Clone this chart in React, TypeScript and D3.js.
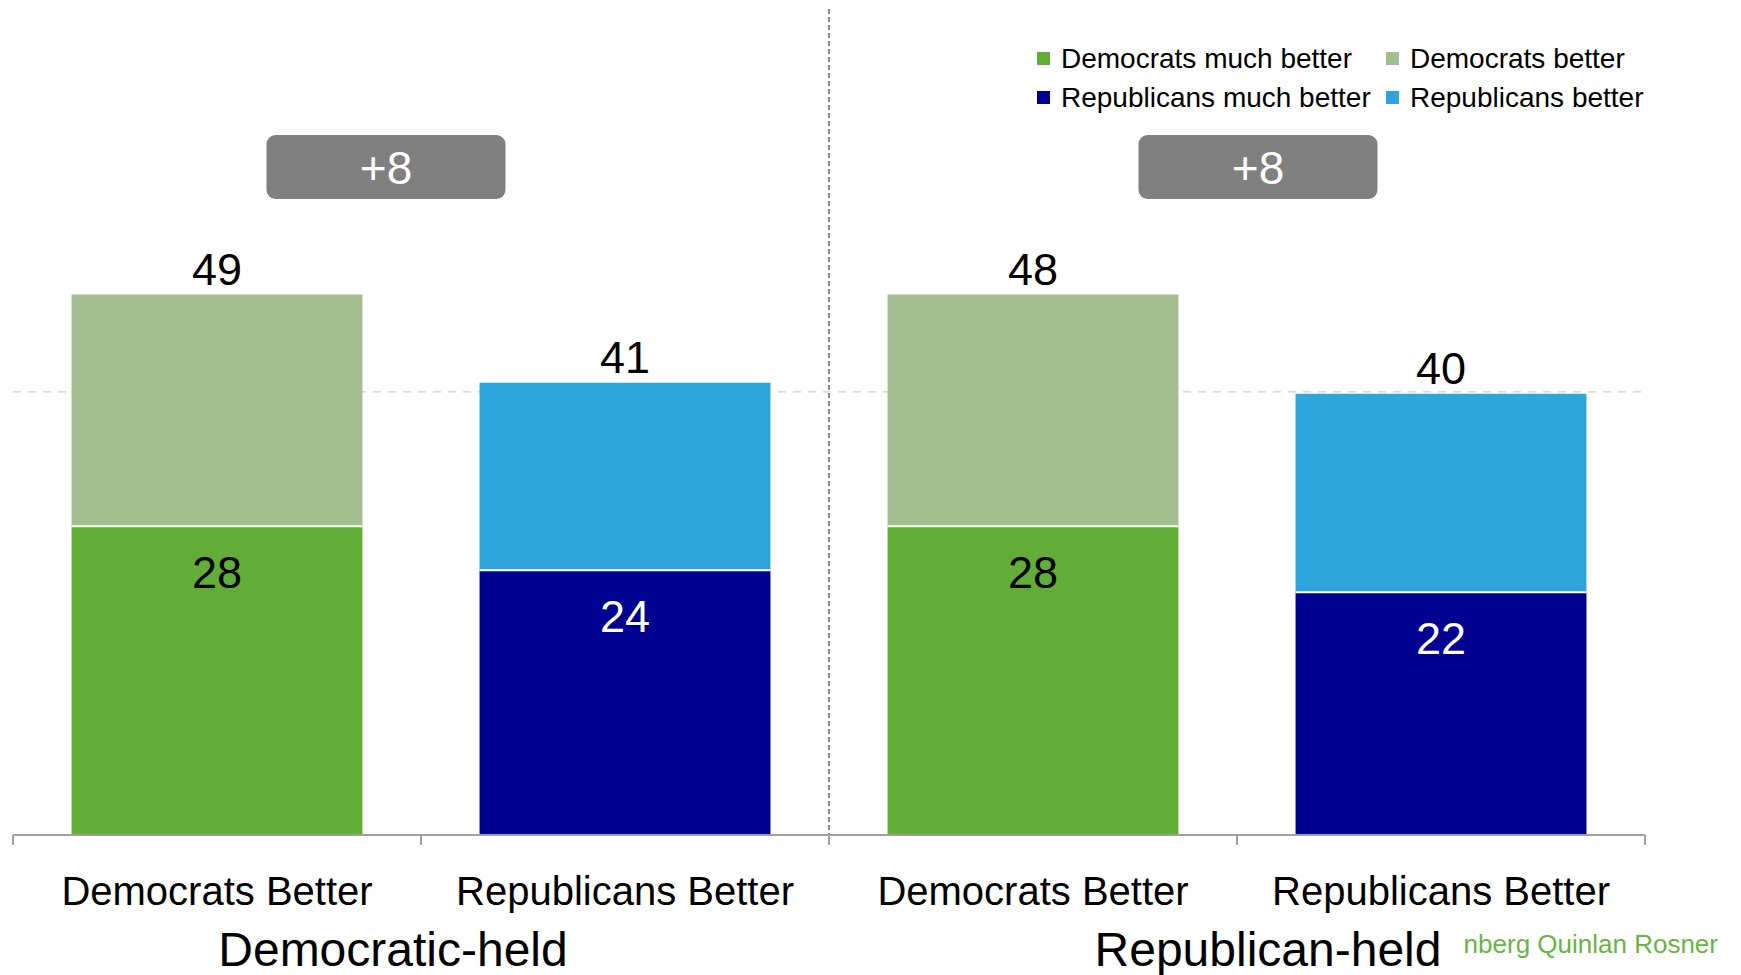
import React from "react";
import * as d3 from "d3";

const categories = ["Democrats Better", "Republicans Better", "Democrats Better", "Republicans Better"];
const groups = ["Democratic-held", "Republican-held"];
const muchBetter = [28, 24, 28, 22];
const better = [21, 17, 21, 18];
const totalLabels = [49, 41, 48, 40];
const margins = ["+8", "+8"];
const legendLabels = ["Democrats much better", "Democrats better", "Republicans much better", "Republicans better"];
const source = "Greenberg Quinlan Rosner";

const W = 1741;
const H = 975;
const FONT = "'Liberation Sans', Arial, Helvetica, sans-serif";

const demMuch = "#62ad38";
const demBetter = "#a3be8f";
const repMuch = "#000090";
const repBetter = "#2ea4dc";

export default function App() {
  const x = d3
    .scaleBand<number>()
    .domain(d3.range(categories.length))
    .range([13, 1645])
    .paddingInner(0.287)
    .paddingOuter(0.1435);
  const y = d3.scaleLinear().domain([0, 49]).range([835, 294.5]);
  const step = x.step();
  const x0 = 13;
  const bottomColor = (i: number) => (i % 2 === 0 ? demMuch : repMuch);
  const topColor = (i: number) => (i % 2 === 0 ? demBetter : repBetter);
  const legendColors = [demMuch, demBetter, repMuch, repBetter];
  const legendX = [1037, 1386];
  const legendY = [59, 98];
  const boxCenters = [386, 1258];
  const groupCenters = [393, 1268];

  return (
    <svg
      width={W}
      height={H}
      style={{ position: "absolute", left: 0, top: 0, background: "#fff" }}
      fontFamily={FONT}
    >
      <rect x={0} y={0} width={W} height={H} fill="#fff" />
      {/* gridline at 40 */}
      <line
        x1={x0}
        x2={1645}
        y1={y(40) - 2}
        y2={y(40) - 2}
        stroke="#cfcfcf"
        strokeWidth={1.3}
        strokeDasharray="8,7"
      />
      {/* divider */}
      <line x1={x0 + 2 * step} x2={x0 + 2 * step} y1={9} y2={y(0)} stroke="#8c8c8c" strokeWidth={2} strokeDasharray="5,3" />

      {/* bars */}
      {categories.map((c, i) => {
        const bx = x(i)!;
        const bw = x.bandwidth();
        const t1 = y(muchBetter[i]);
        const t2 = y(muchBetter[i] + better[i]);
        return (
          <g key={i}>
            <rect x={bx} y={t1} width={bw} height={y(0) - t1} fill={bottomColor(i)} />
            <rect x={bx} y={t2} width={bw} height={t1 - t2} fill={topColor(i)} />
            <line x1={bx} x2={bx + bw} y1={t1} y2={t1} stroke="#fff" strokeWidth={2} />
            <text
              x={bx + bw / 2}
              y={t2 - 10}
              textAnchor="middle"
              fontSize={45}
              fill="#000"
            >
              {totalLabels[i]}
            </text>
            <text
              x={bx + bw / 2}
              y={t1 + 62}
              textAnchor="middle"
              fontSize={45}
              fill={i % 2 === 0 ? "#000" : "#fff"}
            >
              {muchBetter[i]}
            </text>
          </g>
        );
      })}

      {/* axis */}
      <line x1={x0} x2={1645} y1={y(0)} y2={y(0)} stroke="#a0a0a0" strokeWidth={2} />
      {d3.range(categories.length + 1).map((k) => (
        <line
          key={k}
          x1={x0 + k * step}
          x2={x0 + k * step}
          y1={y(0)}
          y2={y(0) + 10}
          stroke="#a0a0a0"
          strokeWidth={2}
        />
      ))}
      {categories.map((c, i) => (
        <text
          key={i}
          x={x(i)! + x.bandwidth() / 2}
          y={905}
          textAnchor="middle"
          fontSize={40}
          fill="#000"
        >
          {c}
        </text>
      ))}

      {/* source text, partially covered */}
      <text x={1718} y={953} textAnchor="end" fontSize={26} fill="#6ab446">
        {source}
      </text>
      {groups.map((g, i) => (
        <g key={g}>
          <rect x={groupCenters[i] - 196} y={918} width={392} height={57} fill="#fff" />
          <text x={groupCenters[i]} y={966} textAnchor="middle" fontSize={48} fill="#000">
            {g}
          </text>
        </g>
      ))}

      {/* +8 boxes */}
      {margins.map((m, i) => (
        <g key={i}>
          <rect x={boxCenters[i] - 119.5} y={135} width={239} height={64} rx={9} fill="#808080" />
          <text x={boxCenters[i]} y={184} textAnchor="middle" fontSize={46} fill="#fff">
            {m}
          </text>
        </g>
      ))}

      {/* legend */}
      {legendLabels.map((l, i) => {
        const col = i % 2;
        const row = Math.floor(i / 2);
        return (
          <g key={l}>
            <rect x={legendX[col]} y={legendY[row] - 7} width={13} height={13} fill={legendColors[i]} />
            <text x={legendX[col] + 24} y={legendY[row] + 9} fontSize={28} fill="#000">
              {l}
            </text>
          </g>
        );
      })}
    </svg>
  );
}
